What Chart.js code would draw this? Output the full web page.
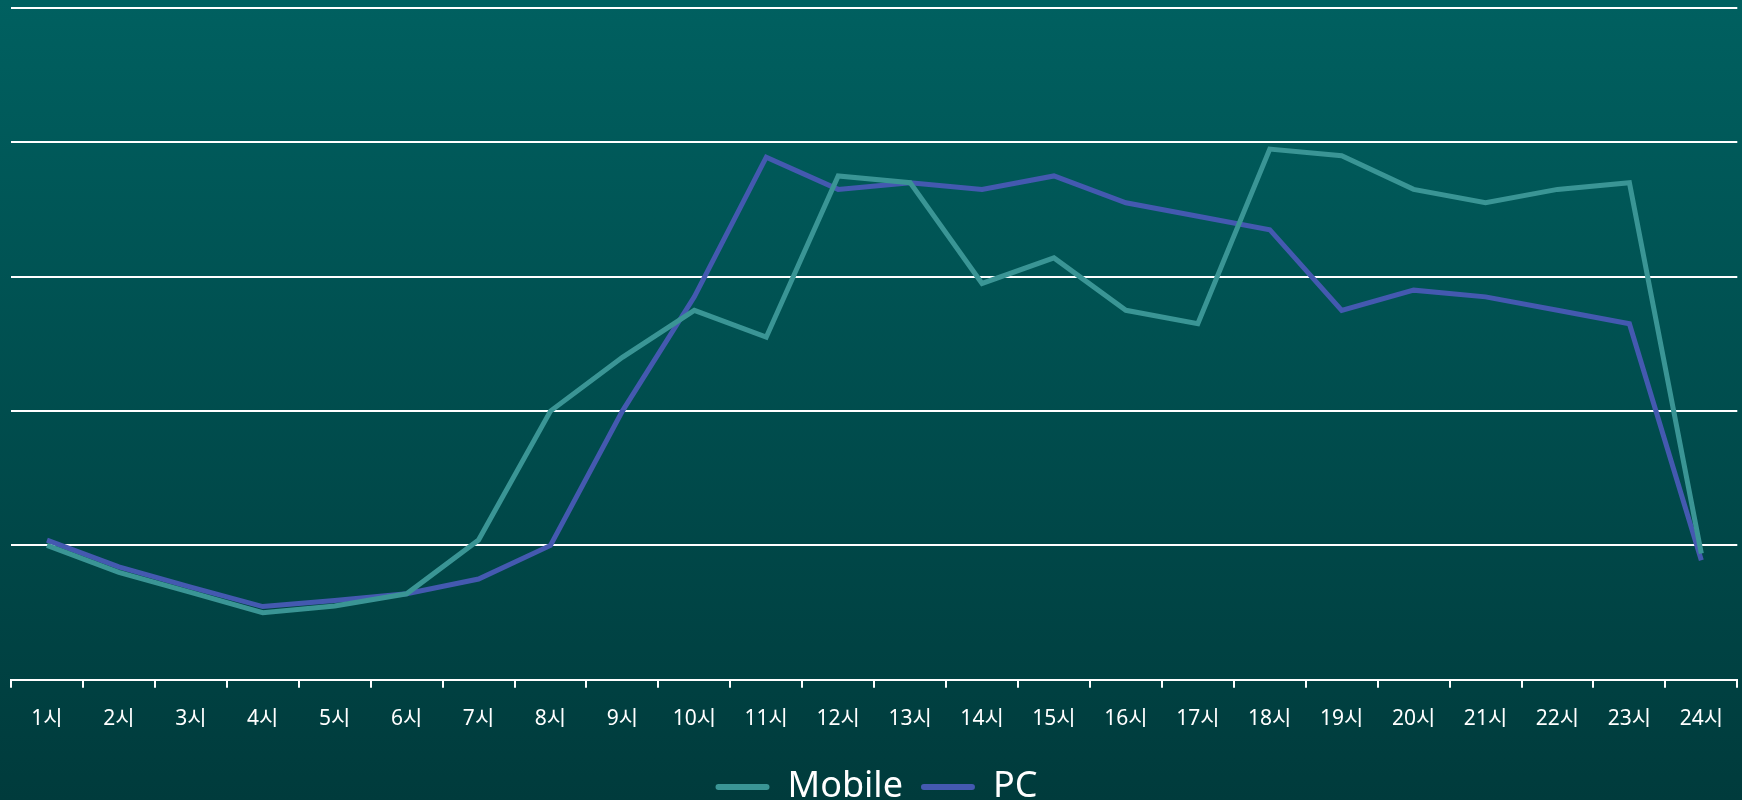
<!DOCTYPE html>
<html>
<head>
<meta charset="utf-8">
<script src="https://cdn.jsdelivr.net/npm/chart.js@4"></script>
<style>
  html, body { margin: 0; padding: 0; overflow: hidden; }
  body { background: linear-gradient(to bottom, #006060 0%, #003b3c 100%); width: 1742px; height: 800px; }
  #wrap { position: relative; width: 1742px; height: 815px; }
</style>
</head>
<body>
<div id="wrap"><canvas id="traffic"></canvas></div>
<script>
var hours = ["1시", "2시", "3시", "4시", "5시", "6시", "7시", "8시", "9시", "10시", "11시", "12시",
  "13시", "14시", "15시", "16시", "17시", "18시", "19시", "20시", "21시", "22시", "23시", "24시"];
var mobile = [1.0, 0.8, 0.65, 0.5, 0.55, 0.64, 1.04, 2.0, 2.4, 2.75, 2.55, 3.75,
  3.7, 2.95, 3.14, 2.75, 2.65, 3.95, 3.9, 3.65, 3.55, 3.65, 3.7, 0.94];
var pc = [1.04, 0.84, 0.69, 0.545, 0.59, 0.64, 0.75, 1.0, 2.0, 2.85, 3.89, 3.65,
  3.7, 3.65, 3.75, 3.55, 3.45, 3.35, 2.75, 2.9, 2.85, 2.75, 2.65, 0.89];

var fontFamily = "'Noto Sans', 'Noto Sans CJK KR', sans-serif";

var ctx = document.getElementById("traffic").getContext("2d");
var chart = new Chart(ctx, {
  type: "line",
  data: {
    labels: hours,
    datasets: [
      {
        label: "Mobile",
        data: mobile,
        borderColor: "#3a9595",
        backgroundColor: "#3a9595",
        borderWidth: 5,
        pointRadius: 0,
        tension: 0
      },
      {
        label: "PC",
        data: pc,
        borderColor: "#4459b0",
        backgroundColor: "#4459b0",
        borderWidth: 5,
        pointRadius: 0,
        tension: 0
      }
    ]
  },
  options: {
    responsive: true,
    maintainAspectRatio: false,
    animation: false,
    layout: {
      padding: { left: 11, right: 0, top: 8, bottom: 0 }
    },
    plugins: {
      tooltip: { enabled: false },
      legend: {
        position: "bottom",
        labels: {
          color: "#ffffff",
          boxWidth: 54,
          boxHeight: 6,
          useBorderRadius: true,
          borderRadius: 3,
          padding: 18,
          font: { family: fontFamily, size: 36 },
          generateLabels: function(chart) {
            var items = Chart.defaults.plugins.legend.labels.generateLabels(chart);
            items.forEach(function(item, i) {
              item.lineWidth = 0;
              item.fillStyle = chart.data.datasets[i].borderColor;
            });
            return items;
          }
        }
      }
    },
    scales: {
      x: {
        offset: true,
        grid: {
          offset: true,
          drawOnChartArea: false,
          color: "#ffffff",
          lineWidth: 2,
          tickLength: 8
        },
        border: { color: "#ffffff", width: 2 },
        ticks: {
          color: "#ffffff",
          padding: 19,
          maxRotation: 0,
          autoSkip: false,
          font: { family: fontFamily, size: 21 }
        }
      },
      y: {
        min: 0,
        max: 5,
        border: { display: false },
        grid: { color: "#ffffff", lineWidth: 2, drawTicks: false },
        ticks: { display: false, stepSize: 1 },
        afterFit: function(scale) { scale.width = 0; }
      }
    }
  }
});
</script>
</body>
</html>
